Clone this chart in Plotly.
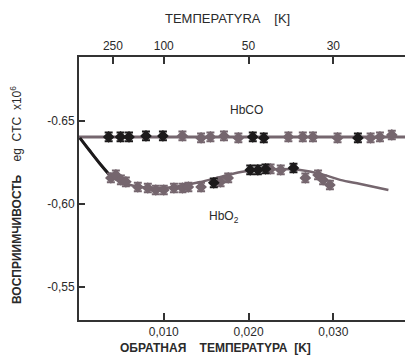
import plotly.graph_objects as go

# HbCO data (inverse temperature, susceptibility)
hbco_x = [0.0035, 0.0049, 0.0059, 0.0079, 0.0099, 0.0122, 0.0144, 0.0155, 0.0171, 0.0188,
          0.0205, 0.0218, 0.0247, 0.0264, 0.0276, 0.0305, 0.0329, 0.0344, 0.0355, 0.0369]
hbco_y = [-0.6404, -0.6404, -0.6404, -0.6410, -0.6410, -0.6410, -0.6398, -0.6404, -0.6410, -0.6398,
          -0.6404, -0.6398, -0.6404, -0.6404, -0.6404, -0.6398, -0.6398, -0.6398, -0.6404, -0.6416]
hbco_dark = [1, 1, 1, 1, 1, 0, 0, 0, 0, 0, 1, 1, 0, 0, 0, 0, 1, 0, 0, 0]
hbco_line_x = [0.0, 0.0386]
hbco_line_y = [-0.6404, -0.6404]

# HbO2 data
hbo2_x = [0.00376, 0.00435, 0.00494, 0.00553, 0.00694, 0.00812, 0.00906, 0.0100, 0.0112, 0.0122,
          0.0129, 0.0144, 0.0159, 0.0167, 0.0176, 0.0202, 0.0211, 0.0220, 0.0226, 0.0238,
          0.0253, 0.0267, 0.0282, 0.0288, 0.0296]
hbo2_y = [-0.6157, -0.6175, -0.6145, -0.6133, -0.6102, -0.6096, -0.6084, -0.6084, -0.6096, -0.6096,
          -0.6102, -0.6102, -0.6127, -0.6133, -0.6157, -0.6205, -0.6205, -0.6211, -0.6211, -0.6205,
          -0.6217, -0.6157, -0.6175, -0.6145, -0.6114]
hbo2_dark = [0, 0, 0, 0, 0, 0, 0, 0, 0, 0, 0, 0, 1, 0, 0, 1, 1, 1, 0, 0, 1, 0, 0, 0, 0]

# HbO2 fitted curve
curve_x = [0.0001, 0.0012, 0.0024, 0.0035, 0.0049, 0.0073, 0.0096, 0.0120, 0.0144, 0.0167,
           0.0191, 0.0214, 0.0238, 0.0261, 0.0285, 0.0308, 0.0332, 0.0365]
curve_y = [-0.6398, -0.6325, -0.6247, -0.6181, -0.6133, -0.6102, -0.6096, -0.6108, -0.6133, -0.6163,
           -0.6193, -0.6205, -0.6211, -0.6205, -0.6181, -0.6145, -0.6120, -0.6084]

bottom_ticks = [0.010, 0.020, 0.030]
bottom_labels = ["0,010", "0,020", "0,030"]
top_ticks = [0.004, 0.010, 0.020, 0.030]
top_labels = ["250", "100", "50", "30"]
y_ticks = [-0.65, -0.60, -0.55]
y_labels = ["-0.65", "-0,60", "-0,55"]

GRAY = "#75666e"
DARK = "#1c1a1b"
err = 0.0026

fig = go.Figure()
fig.add_trace(go.Scatter(x=hbco_line_x, y=hbco_line_y, mode="lines",
                         line=dict(color=GRAY, width=3), hoverinfo="skip"))
fig.add_trace(go.Scatter(x=curve_x, y=curve_y, mode="lines",
                         line=dict(color=GRAY, width=2.5, shape="spline"), hoverinfo="skip"))
fig.add_trace(go.Scatter(x=curve_x[:4], y=curve_y[:4], mode="lines",
                         line=dict(color=DARK, width=3, shape="spline"), hoverinfo="skip"))

for xs, ys, dk in [(hbco_x, hbco_y, hbco_dark), (hbo2_x, hbo2_y, hbo2_dark)]:
    cols = [DARK if d else GRAY for d in dk]
    for c in (GRAY, DARK):
        px = [x for x, cc in zip(xs, cols) if cc == c]
        py = [y for y, cc in zip(ys, cols) if cc == c]
        fig.add_trace(go.Scatter(
            x=px, y=py, mode="markers",
            marker=dict(symbol="diamond", size=9, color=c),
            error_y=dict(type="constant", value=err, color=c, thickness=2, width=4),
        ))

# invisible trace for the top axis
fig.add_trace(go.Scatter(x=[0.01], y=[-0.6], xaxis="x2", mode="markers",
                         marker=dict(opacity=0), hoverinfo="skip"))

FONT = "Liberation Sans, Arial, sans-serif"
TXT = "#2a2a2a"
axis_font = dict(family=FONT, size=12, color=TXT)
fig.update_layout(
    width=405, height=352,
    margin=dict(l=71, r=0, t=49, b=40),
    paper_bgcolor="white", plot_bgcolor="white",
    showlegend=False,
    xaxis=dict(range=[0, 0.0394], showgrid=False, zeroline=False, showline=True,
               linecolor="#333", linewidth=2, ticks="inside", ticklen=7, tickwidth=2,
               tickcolor="#333", tickvals=bottom_ticks, ticktext=bottom_labels,
               tickfont=axis_font, automargin=False),
    xaxis2=dict(range=[0, 0.0394], overlaying="x", side="top", showgrid=False,
                zeroline=False, showline=True, linecolor="#333", linewidth=2,
                ticks="inside", ticklen=7, tickwidth=2, tickcolor="#333",
                tickvals=top_ticks, ticktext=top_labels, tickfont=axis_font,
                automargin=False),
    yaxis=dict(range=[-0.530, -0.6886], showgrid=False, zeroline=False, showline=True,
               linecolor="#333", linewidth=2, ticks="inside", ticklen=6, tickwidth=2,
               tickcolor="#333", tickvals=y_ticks, ticktext=y_labels, tickfont=axis_font,
               automargin=False),
    annotations=[
        dict(text="TEMПEPATYRA    [K]", xref="paper", yref="paper", x=0.446, y=1.0,
             yshift=39, yanchor="middle", showarrow=False,
             font=dict(family=FONT, size=13, color=TXT)),
        dict(text="<b>ОБРАТНАЯ    ТЕМПЕРАТYРА  [K]</b>", xref="paper", yref="paper", x=0.41, y=0,
             yshift=-28, yanchor="middle", showarrow=False,
             font=dict(family=FONT, size=12, color=TXT)),
        dict(text="<b>ВОСПРИИМЧИВОСТЬ</b>    eg  CTC  x10<sup>6</sup>", xref="paper", yref="paper",
             x=0, y=0.475, xshift=-63, xanchor="center", yanchor="middle", textangle=-90,
             showarrow=False, font=dict(family=FONT, size=12, color=TXT)),
        dict(text="HbCO", x=0.0198, y=-0.6566, showarrow=False,
             font=dict(family=FONT, size=12, color=TXT)),
        dict(text="HbO<sub>2</sub>", x=0.0171, y=-0.5922, showarrow=False,
             font=dict(family=FONT, size=12, color=TXT)),
    ],
)

fig.write_html("out.html")
